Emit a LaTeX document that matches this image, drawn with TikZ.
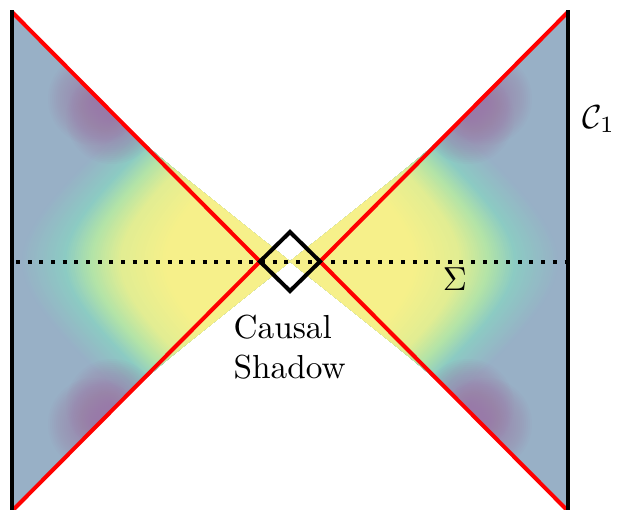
\documentclass[tikz,border=0pt]{standalone}
\definecolor{vB}{RGB}{152,176,198}
\definecolor{vP}{RGB}{160,122,168}
\definecolor{vT}{RGB}{140,203,195}
\definecolor{vG}{RGB}{178,227,168}
\definecolor{vYG}{RGB}{226,237,146}
\definecolor{vY}{RGB}{246,240,138}
\tikzset{
  wall/.style={line width=4pt, black},
  cone/.style={line width=4pt, red, line join=miter},
  slice/.style={line width=4pt, black, dash pattern=on 4pt off 7.67pt},
  shadowbox/.style={line width=4pt, black, line join=miter},
  lbl/.style={inner sep=0pt, scale=3.33, transform shape},
  blob/.style={fill=vP, fill opacity=0.05},
}
% one contour level of the field in the left wedge
\newcommand\levelfill[2]{%
  \fill[#2] plot[domain=-25:25, samples=51, variable=\t] ({#1 + 11.5*sqrt(\t*\t+36) - 69}, {261.5 + 10*\t}) -- (300,511.5) -- (300,11.5) -- cycle;}
% soft purple patch made of stacked translucent discs
\newcommand\softblob[1]{%
  \foreach \r in {46,44,...,2} {\fill[blob] #1 circle (\r);}}
% the whole shaded left wedge (mirrored for the right one)
\newcommand\wedgeshade{%
  \clip (12,12) -- (130,130.7) .. controls (165,162) .. (290,261.5) .. controls (165,361) .. (130,392.3) -- (12,511) -- cycle;
  \fill[vB] (0,0) rectangle (300,520);
  \foreach \a in {22,24,...,64} {\pgfmathtruncatemacro\p{(\a-20)/44*100}\levelfill{\a}{vT!\p!vB}}
  \foreach \a in {66,68,...,90} {\pgfmathtruncatemacro\p{(\a-64)/26*100}\levelfill{\a}{vG!\p!vT}}
  \foreach \a in {92,94,...,120} {\pgfmathtruncatemacro\p{(\a-90)/30*100}\levelfill{\a}{vYG!\p!vG}}
  \foreach \a in {123,126,...,165} {\pgfmathtruncatemacro\p{(\a-120)/45*100}\levelfill{\a}{vY!\p!vYG}}
  \softblob{(94,99)}
  \softblob{(112,118)}
  \softblob{(94,424)}
  \softblob{(112,405)}
}
\begin{document}
\begin{tikzpicture}[x={(1pt,0pt)}, y={(0pt,-1pt)}]
\useasboundingbox (0,0) rectangle (617,509);
% key points
\coordinate (TL) at (12,12);
\coordinate (BL) at (12,511);
\coordinate (TR) at (568,12);
\coordinate (BR) at (568,511);
\coordinate (WTL) at (12,10);
\coordinate (WBL) at (12,512);
\coordinate (WTR) at (568,10);
\coordinate (WBR) at (568,512);
\coordinate (DL) at (260,261.5);
\coordinate (DR) at (320,261.5);
\coordinate (DT) at (290,232);
\coordinate (DB) at (290,291);
\coordinate (SL) at (16,261.5);
\coordinate (SR) at (568,261.5);
% shaded field
\begin{scope}
\wedgeshade
\end{scope}
\begin{scope}[xshift=580pt, xscale=-1]
\wedgeshade
\end{scope}
% time slice
\draw[slice] (SL) -- (SR);
% light cones
\draw[cone] (TL) -- (DL) -- (BL);
\draw[cone] (TR) -- (DR) -- (BR);
% causal shadow diamond
\draw[shadowbox] (DL) -- (DT) -- (DR) -- (DB) -- cycle;
% boundaries
\draw[wall] (WTL) -- (WBL);
\draw[wall] (WTR) -- (WBR);
% labels
\node[lbl, anchor=base west] (c1) at (582,128) {$\mathcal{C}_1$};
\node[lbl, anchor=base] (sig) at (455,290) {$\Sigma$};
\node[lbl, anchor=north west, align=left] (cs) at (233,314) {Causal\\Shadow};
\end{tikzpicture}
\end{document}
